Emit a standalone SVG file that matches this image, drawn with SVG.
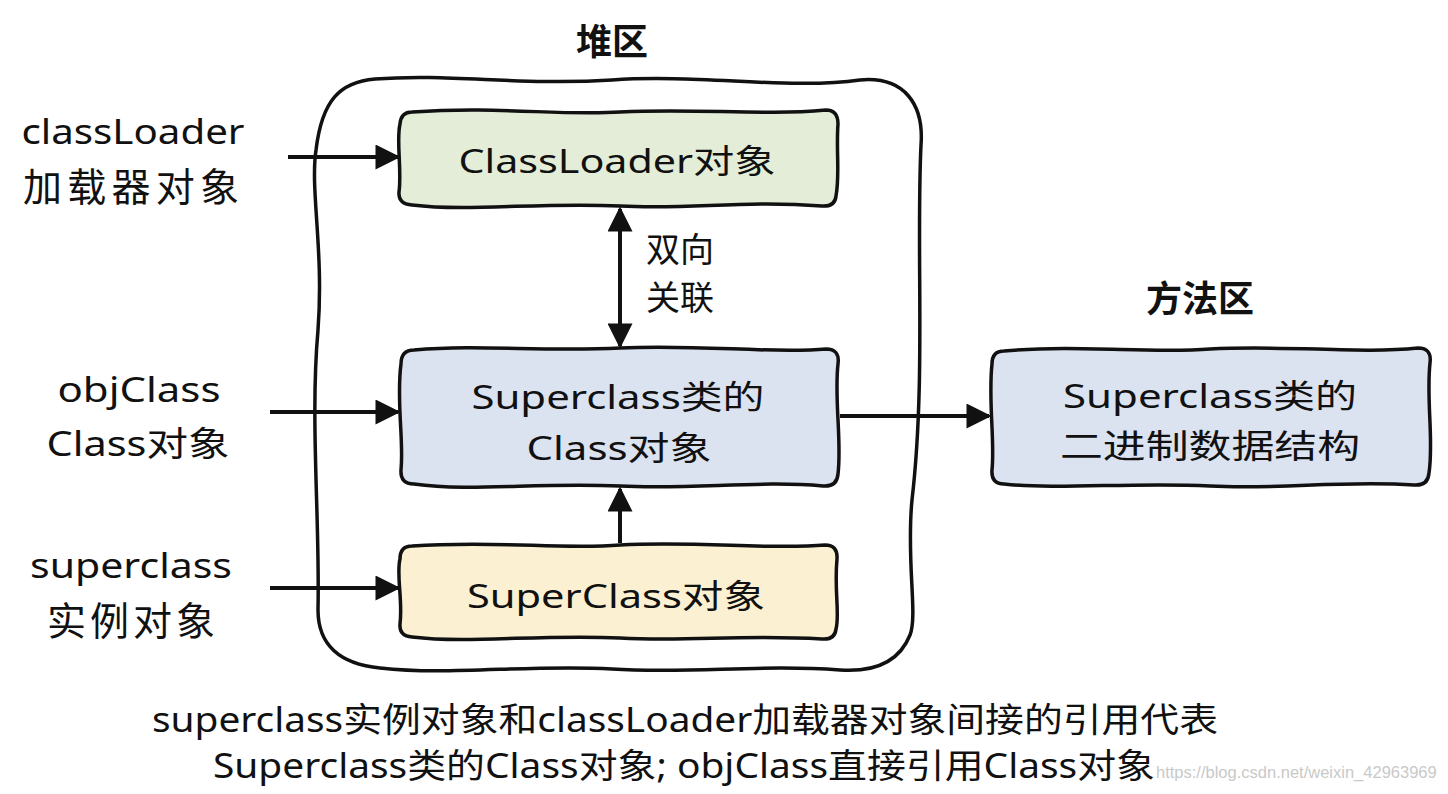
<svg xmlns="http://www.w3.org/2000/svg" width="1448" height="794" viewBox="0 0 1448 794">
  <style>
    .t { font-family: "Noto Sans", "Noto Sans CJK SC", sans-serif; fill: #111; }
    .c { text-anchor: middle; }
    .n { font-size: 33px; }
    .lbl { font-size: 34px; }
    .big { font-size: 39px; }
    .title { font-size: 36px; font-weight: bold; }
    .box { stroke: #111; stroke-width: 3.5; stroke-linejoin: round; }
    .edge { fill: none; stroke: #111; stroke-width: 4; }
    .wm { font-family: "Liberation Sans", Arial, sans-serif; font-size: 16.5px; fill: #c9c9c9; }
  </style>
  <defs>
    <marker id="ah" viewBox="0 0 10 10" refX="9" refY="5" markerWidth="26" markerHeight="25" markerUnits="userSpaceOnUse" orient="auto-start-reverse">
      <path d="M0,0 L10,5 L0,10 Z" fill="#111"/>
    </marker>
  </defs>
  <rect width="1448" height="794" fill="#ffffff"/>

  <g id="heap">
    <path d="M 375,79 C 450,73 520,86 612,80 C 700,74 790,90 860,80 C 905,76 924,105 921,145 C 916,250 926,380 912,500 C 906,560 918,615 910,635 C 898,665 870,672 840,670 C 760,664 690,674 612,669 C 530,664 450,676 380,668 C 340,664 318,645 318,610 C 320,520 310,420 318,330 C 324,250 310,190 316,150 C 322,100 340,82 375,79 Z" fill="none" stroke="#111" stroke-width="3.5"/>
    <text class="t c title" x="612" y="55">堆区</text>
  </g>

  <g id="method-area-title">
    <text class="t c title" x="1200" y="312">方法区</text>
  </g>

  <g id="connectors">
    <path class="edge" d="M 288,157 L 398,157" marker-end="url(#ah)"/>
    <path class="edge" d="M 270,412 L 398,412" marker-end="url(#ah)"/>
    <path class="edge" d="M 270,588 L 398,588" marker-end="url(#ah)"/>
    <path class="edge" d="M 620,209 L 620,346" marker-start="url(#ah)" marker-end="url(#ah)"/>
    <path class="edge" d="M 620,543 L 620,489" marker-end="url(#ah)"/>
    <path class="edge" d="M 840,416 L 989,416" marker-end="url(#ah)"/>
    <text class="t lbl" x="646" y="262">双向</text>
    <text class="t lbl" x="646" y="310">关联</text>
  </g>

  <g id="classloader-obj">
    <path class="box" fill="#e3edd8" d="M 412,112 C 500,106 560,116 620,112 C 700,108 760,116 826,110 Q 838,110 838,124 C 836,150 840,175 836,196 Q 835,207 822,206 C 740,200 690,210 620,206 C 540,202 470,212 412,205 Q 398,204 399,192 C 402,170 396,140 400,124 Q 401,112 412,112 Z"/>
    <text class="t c n" x="617" y="173" textLength="317" lengthAdjust="spacingAndGlyphs">ClassLoader对象</text>
  </g>

  <g id="class-obj">
    <path class="box" fill="#dce3f0" d="M 414,350 C 480,344 540,352 620,348 C 700,344 770,354 826,349 Q 840,349 838,364 C 834,400 842,440 838,474 Q 837,487 823,486 C 760,480 690,490 620,486 C 540,482 470,492 414,484 Q 400,484 401,470 C 404,440 396,400 401,364 Q 401,350 414,350 Z"/>
    <text class="t c n" x="618" y="409" textLength="293" lengthAdjust="spacingAndGlyphs">Superclass类的</text>
    <text class="t c n" x="619" y="460" textLength="185" lengthAdjust="spacingAndGlyphs">Class对象</text>
  </g>

  <g id="superclass-obj">
    <path class="box" fill="#fbf1d2" d="M 412,546 C 500,540 560,550 620,545 C 700,541 770,550 825,545 Q 838,545 837,559 C 834,590 840,615 836,629 Q 835,640 822,639 C 740,634 690,642 620,638 C 540,634 470,644 412,637 Q 399,636 400,624 C 403,600 396,575 400,559 Q 400,546 412,546 Z"/>
    <text class="t c n" x="616" y="608" textLength="298" lengthAdjust="spacingAndGlyphs">SuperClass对象</text>
  </g>

  <g id="binary-struct">
    <path class="box" fill="#dce3f0" d="M 1004,351 C 1080,344 1150,354 1210,349 C 1290,345 1360,354 1418,348 Q 1432,348 1430,363 C 1426,400 1434,440 1429,473 Q 1428,486 1414,485 C 1340,480 1280,490 1210,486 C 1130,482 1060,490 1004,484 Q 991,484 992,470 C 995,440 988,400 992,364 Q 992,351 1004,351 Z"/>
    <text class="t c n" x="1210" y="408" textLength="294" lengthAdjust="spacingAndGlyphs">Superclass类的</text>
    <text class="t c n" x="1210" y="458" textLength="300" lengthAdjust="spacingAndGlyphs">二进制数据结构</text>
  </g>

  <g id="label-classloader">
    <text class="t c lbl" x="133" y="144" textLength="223" lengthAdjust="spacingAndGlyphs">classLoader</text>
    <text class="t c big" x="131" y="201" textLength="216" lengthAdjust="spacing">加载器对象</text>
  </g>

  <g id="label-objclass">
    <text class="t c lbl" x="139" y="402" textLength="163" lengthAdjust="spacingAndGlyphs">objClass</text>
    <text class="t c lbl" x="138" y="456" textLength="183" lengthAdjust="spacingAndGlyphs">Class对象</text>
  </g>

  <g id="label-superclass">
    <text class="t c lbl" x="131" y="578" textLength="202" lengthAdjust="spacingAndGlyphs">superclass</text>
    <text class="t c big" x="131" y="635" textLength="168" lengthAdjust="spacing">实例对象</text>
  </g>

  <g id="caption">
    <text class="wm" x="1156" y="778">https://blog.csdn.net/weixin_42963969</text>
    <text class="t c lbl" x="685" y="732" textLength="1066" lengthAdjust="spacingAndGlyphs">superclass实例对象和classLoader加载器对象间接的引用代表</text>
    <text class="t c lbl" x="684" y="778" textLength="942" lengthAdjust="spacingAndGlyphs">Superclass类的Class对象; objClass直接引用Class对象</text>
  </g>
</svg>
